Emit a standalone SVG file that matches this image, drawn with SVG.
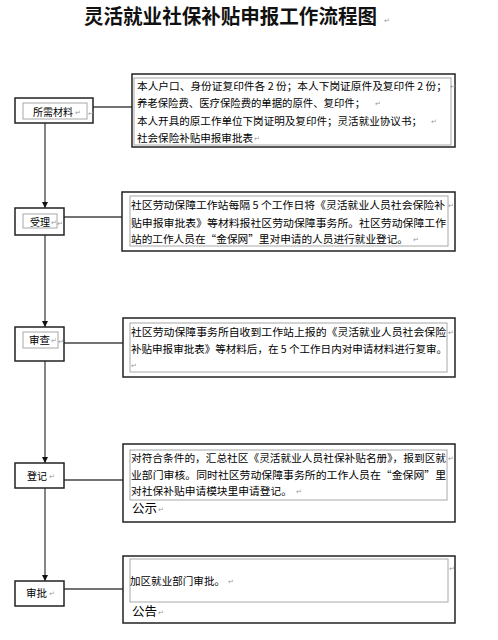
<svg xmlns="http://www.w3.org/2000/svg" width="498" height="640" viewBox="0 0 498 640">
<style>
.bg{fill:#ffffff}
.outer{fill:#ffffff;stroke:#222222;stroke-width:1.5}
.inner{fill:none;stroke:#a8a8a8;stroke-width:1}
.t{font-family:"Noto Sans CJK SC","Liberation Sans",sans-serif;font-size:10.5px;fill:#000000}
.big{font-family:"Noto Sans CJK SC","Liberation Sans",sans-serif;font-size:12.5px;fill:#000000}
.title{font-family:"Noto Sans CJK SC","Liberation Sans",sans-serif;font-size:20px;font-weight:bold;fill:#111111}
.pm{font-family:"DejaVu Sans",sans-serif;font-size:7px;fill:#9a9a9a}
.conn{stroke:#444444;stroke-width:1.3;fill:none}
</style>
<defs>
<marker id="arr" markerUnits="userSpaceOnUse" markerWidth="7" markerHeight="7" refX="6" refY="3" orient="auto">
<path d="M0,0 L6,3 L0,6 z" fill="#111111"/>
</marker>
</defs>
<rect class="bg" x="0" y="0" width="498" height="640"/>

<g id="title">
<text class="title" x="84" y="24" textLength="293" lengthAdjust="spacingAndGlyphs">灵活就业社保补贴申报工作流程图</text>
<text class="pm" x="384" y="23">↵</text>
</g>

<g id="connectors">
<line class="conn" x1="93" y1="107" x2="133" y2="107"/>
<line class="conn" x1="64" y1="217" x2="122" y2="217"/>
<line class="conn" x1="64" y1="343" x2="123" y2="343"/>
<line class="conn" x1="64" y1="480" x2="123" y2="480"/>
<line class="conn" x1="64" y1="589" x2="123" y2="589"/>
<line class="conn" x1="45" y1="123" x2="45" y2="208" marker-end="url(#arr)"/>
<line class="conn" x1="45" y1="235" x2="45" y2="327" marker-end="url(#arr)"/>
<line class="conn" x1="45" y1="361" x2="45" y2="463" marker-end="url(#arr)"/>
<line class="conn" x1="45" y1="488" x2="45" y2="581" marker-end="url(#arr)"/>
</g>

<g id="node-suoxucailiao">
<rect class="outer" x="15" y="98" width="78" height="25"/>
<rect class="inner" x="23" y="103" width="64" height="16"/>
<text class="t" x="33" y="116" textLength="40" lengthAdjust="spacingAndGlyphs">所需材料</text>
<text class="pm" x="75" y="115">↵</text>
<text class="pm" x="88" y="116">↵</text>
</g>

<g id="desc-cailiao">
<rect class="outer" x="132" y="74" width="323" height="73"/>
<rect class="inner" x="134" y="78" width="317" height="67"/>
<text class="t" x="137" y="90" textLength="310" lengthAdjust="spacingAndGlyphs">本人户口、身份证复印件各 2 份；本人下岗证原件及复印件 2 份；</text>
<text class="pm" x="450" y="89">↵</text>
<text class="t" x="137" y="107" textLength="228" lengthAdjust="spacingAndGlyphs">养老保险费、医疗保险费的单据的原件、复印件；</text>
<text class="pm" x="375" y="106">↵</text>
<text class="t" x="137" y="125" textLength="285" lengthAdjust="spacingAndGlyphs">本人开具的原工作单位下岗证明及复印件；灵活就业协议书；</text>
<text class="pm" x="431" y="124">↵</text>
<text class="t" x="137" y="142" textLength="116" lengthAdjust="spacingAndGlyphs">社会保险补贴申报审批表</text>
<text class="pm" x="254" y="141">↵</text>
</g>

<g id="node-shouli">
<rect class="outer" x="15" y="208" width="49" height="27"/>
<rect class="inner" x="23" y="214" width="34" height="14"/>
<text class="t" x="30" y="226" textLength="20" lengthAdjust="spacingAndGlyphs">受理</text>
<text class="pm" x="51" y="225">↵</text>
<text class="pm" x="57" y="226">↵</text>
</g>

<g id="desc-shouli">
<rect class="outer" x="122" y="192" width="333" height="59"/>
<rect class="inner" x="130" y="196" width="318" height="50"/>
<text class="t" x="131" y="209" textLength="314" lengthAdjust="spacingAndGlyphs">社区劳动保障工作站每隔 5 个工作日将《灵活就业人员社会保险补</text>
<text class="pm" x="448" y="208">↵</text>
<text class="t" x="131" y="227" textLength="315" lengthAdjust="spacingAndGlyphs">贴申报审批表》等材料报社区劳动保障事务所。社区劳动保障工作</text>
<text class="t" x="131" y="243" textLength="277" lengthAdjust="spacingAndGlyphs">站的工作人员在“金保网”里对申请的人员进行就业登记。</text>
<text class="pm" x="413" y="242">↵</text>
</g>

<g id="node-shencha">
<rect class="outer" x="15" y="327" width="49" height="34"/>
<rect class="inner" x="23" y="332" width="35" height="16"/>
<text class="t" x="29" y="344" textLength="21" lengthAdjust="spacingAndGlyphs">审查</text>
<text class="pm" x="51" y="343">↵</text>
<text class="pm" x="58" y="344">↵</text>
</g>

<g id="desc-shencha">
<rect class="outer" x="123" y="318" width="332" height="59"/>
<rect class="inner" x="130" y="323" width="317" height="49"/>
<text class="t" x="131" y="336" textLength="315" lengthAdjust="spacingAndGlyphs">社区劳动保障事务所自收到工作站上报的《灵活就业人员社会保险</text>
<text class="pm" x="448" y="335">↵</text>
<text class="t" x="131" y="353" textLength="316" lengthAdjust="spacingAndGlyphs">补贴申报审批表》等材料后，在 5 个工作日内对申请材料进行复审。</text>
<text class="pm" x="131" y="368">↵</text>
</g>

<g id="node-dengji">
<rect class="outer" x="15" y="463" width="49" height="25"/>
<text class="t" x="27" y="480" textLength="20" lengthAdjust="spacingAndGlyphs">登记</text>
<text class="pm" x="49" y="479">↵</text>
</g>

<g id="desc-dengji">
<rect class="outer" x="123" y="444" width="332" height="78"/>
<rect class="inner" x="130" y="450" width="317" height="50"/>
<text class="t" x="131" y="462" textLength="315" lengthAdjust="spacingAndGlyphs">对符合条件的，汇总社区《灵活就业人员社保补贴名册》，报到区就</text>
<text class="pm" x="448" y="461">↵</text>
<text class="t" x="131" y="479" textLength="315" lengthAdjust="spacingAndGlyphs">业部门审核。同时社区劳动保障事务所的工作人员在“金保网”里</text>
<text class="t" x="131" y="495" textLength="161" lengthAdjust="spacingAndGlyphs">对社保补贴申请模块里申请登记。</text>
<text class="pm" x="296" y="494">↵</text>
<text class="big" x="132" y="513" textLength="25" lengthAdjust="spacingAndGlyphs">公示</text>
<text class="pm" x="158" y="512">↵</text>
</g>

<g id="node-shenpi">
<rect class="outer" x="15" y="581" width="49" height="25"/>
<text class="t" x="26" y="597" textLength="21" lengthAdjust="spacingAndGlyphs">审批</text>
<text class="pm" x="49" y="596">↵</text>
</g>

<g id="desc-shenpi">
<rect class="outer" x="123" y="556" width="332" height="67"/>
<rect class="inner" x="130" y="559" width="318" height="43"/>
<text class="t" x="130" y="585" textLength="95" lengthAdjust="spacingAndGlyphs">加区就业部门审批。</text>
<text class="pm" x="228" y="584">↵</text>
<text class="pm" x="449" y="571">↵</text>
<text class="big" x="132" y="616" textLength="25" lengthAdjust="spacingAndGlyphs">公告</text>
<text class="pm" x="158" y="615">↵</text>
</g>
</svg>
